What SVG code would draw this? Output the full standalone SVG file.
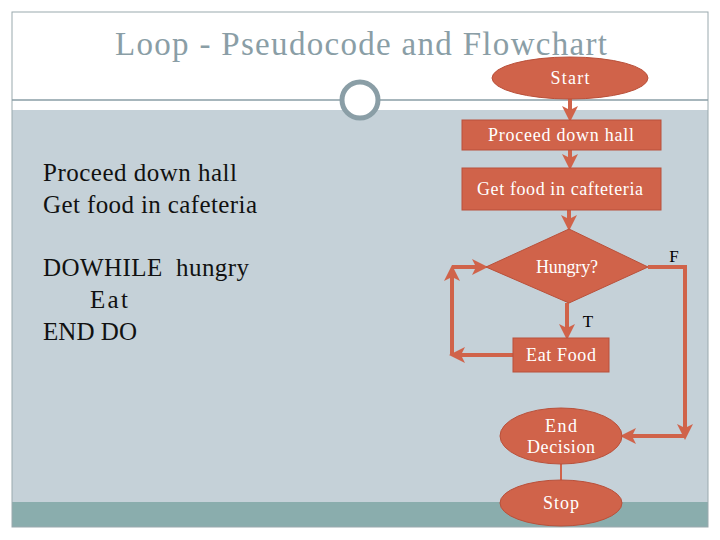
<svg xmlns="http://www.w3.org/2000/svg" width="720" height="540" viewBox="0 0 720 540">
<style>
.n{fill:#d0634a;stroke:#b9503a;stroke-width:1}
.t{font-family:"Liberation Serif",serif;fill:#fff;font-size:18px;text-anchor:middle}
.e{stroke:#d0634a;stroke-width:4;fill:none}
.p{font-family:"Liberation Serif",serif;font-size:25px;fill:#111}
</style>
<defs><marker id="a" markerWidth="4" markerHeight="4" refX="3" refY="2" orient="auto" markerUnits="strokeWidth"><path d="M0,0L4,2L0,4L1,2z" fill="#d0634a"/></marker></defs>
<rect width="720" height="540" fill="#fff"/>
<rect x="12" y="110" width="696" height="392" fill="#c5d1d8"/>
<rect x="12" y="502" width="696" height="25" fill="#8aadad"/>
<rect x="12" y="12" width="696" height="515" fill="none" stroke="#9aa9ae"/>
<line x1="12" y1="100" x2="708" y2="100" stroke="#8a9ea6" stroke-width="1.5"/>
<circle cx="360" cy="100" r="18" fill="#fff" stroke="#8a9ea6" stroke-width="5"/>
<text x="115" y="55" font-family="Liberation Serif,serif" font-size="33" fill="#8a9ea6" textLength="492">Loop - Pseudocode and Flowchart</text>
<text class="p" x="43" y="181" textLength="194">Proceed down hall</text>
<text class="p" x="43" y="213" textLength="214">Get food in cafeteria</text>
<text class="p" x="43" y="276" textLength="206" xml:space="preserve">DOWHILE  hungry</text>
<text class="p" x="90" y="308" textLength="38">Eat</text>
<text class="p" x="43" y="340" textLength="94">END DO</text>
<g id="connectors">
<line class="e" x1="570" y1="99" x2="570" y2="118" marker-end="url(#a)"/>
<line class="e" x1="570" y1="150" x2="570" y2="166" marker-end="url(#a)"/>
<line class="e" x1="569" y1="210" x2="569" y2="227" marker-end="url(#a)"/>
<line class="e" x1="567" y1="303" x2="567" y2="336" marker-end="url(#a)"/>
<path class="e" d="M513,355H453" marker-end="url(#a)"/>
<path class="e" d="M452,355V269" marker-end="url(#a)"/>
<path class="e" d="M452,267H484" marker-end="url(#a)"/>
<path class="e" d="M648,267H685V436" marker-end="url(#a)"/>
<path class="e" d="M685,436H624" marker-end="url(#a)"/>
<line x1="561" y1="464" x2="561" y2="480" stroke="#d0634a" stroke-width="2"/>
<text x="674" y="262" font-family="Liberation Serif,serif" font-size="17" fill="#000" text-anchor="middle">F</text>
<text x="588" y="327" font-family="Liberation Serif,serif" font-size="17" fill="#000" text-anchor="middle">T</text>
</g>
<g id="start"><ellipse class="n" cx="570" cy="78" rx="78" ry="21"/><text class="t" x="570" y="84" textLength="39">Start</text></g>
<g id="proceed"><rect class="n" x="462" y="120" width="199" height="30"/><text class="t" x="561" y="141" textLength="146">Proceed down hall</text></g>
<g id="getfood"><rect class="n" x="462" y="168" width="199" height="42"/><text class="t" x="560" y="195" textLength="166">Get food in cafteteria</text></g>
<g id="hungry"><polygon class="n" points="486,267 569,229 648,267 569,303"/><text class="t" x="567" y="273" font-size="16" textLength="62">Hungry?</text></g>
<g id="eat"><rect class="n" x="513" y="338" width="96" height="34"/><text class="t" x="561" y="361" textLength="70">Eat Food</text></g>
<g id="end"><ellipse class="n" cx="561" cy="436" rx="61" ry="28"/><text class="t" x="561" y="432" textLength="32">End</text><text class="t" x="561" y="453" textLength="68">Decision</text></g>
<g id="stop"><ellipse class="n" cx="561" cy="503" rx="61" ry="23"/><text class="t" x="561" y="509" textLength="36">Stop</text></g>
</svg>
